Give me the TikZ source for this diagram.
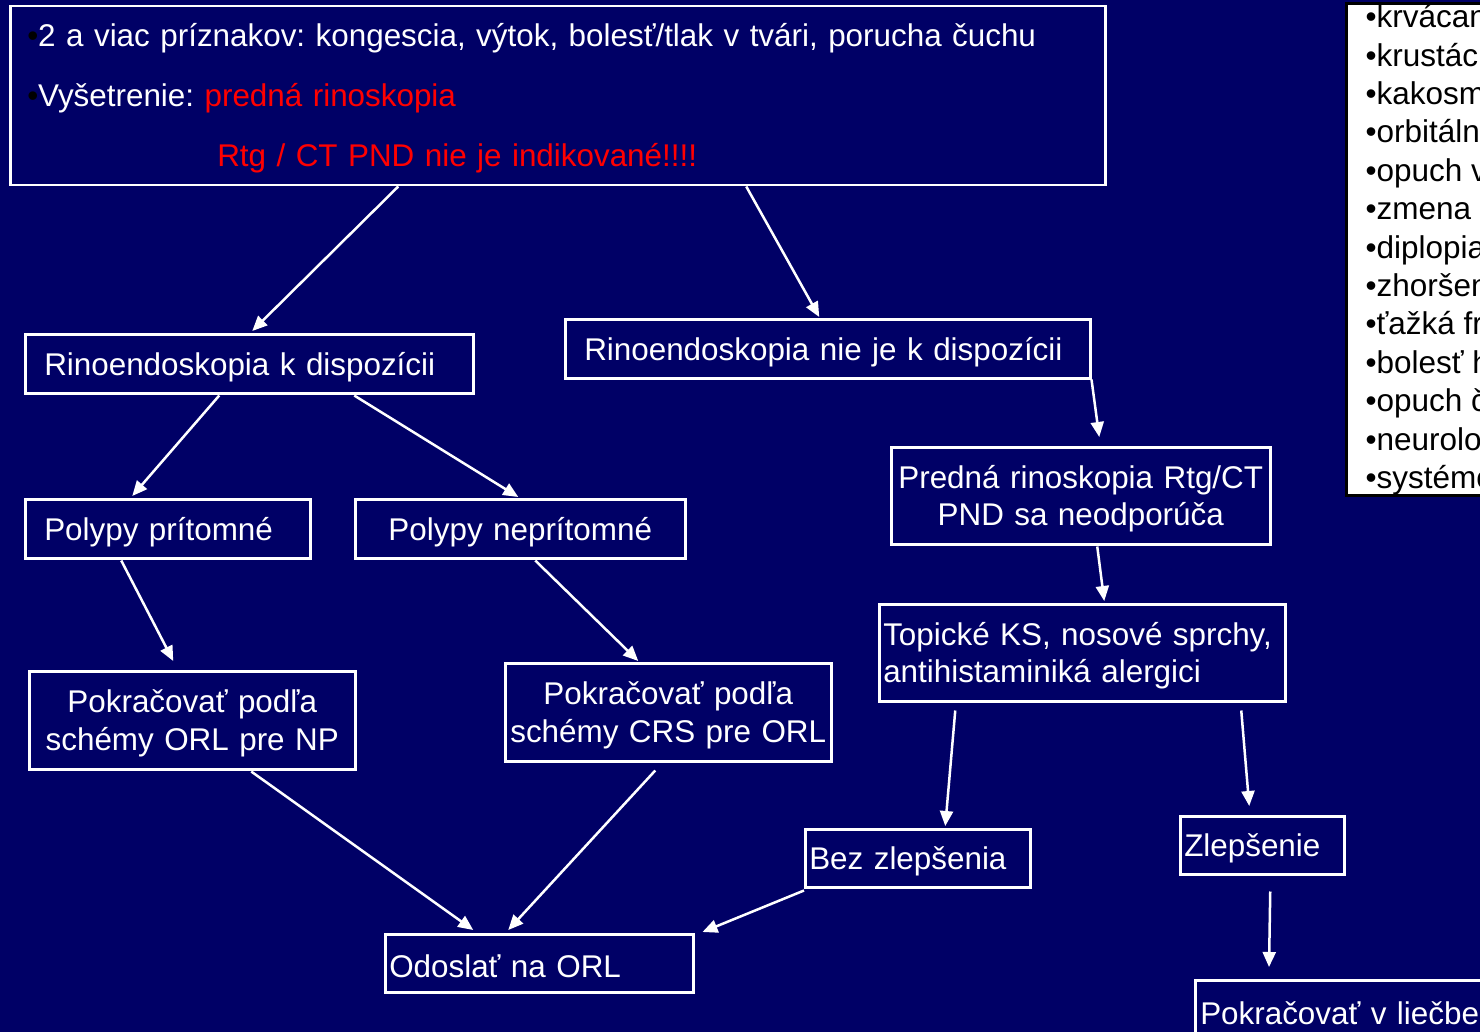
\documentclass[tikz,border=0pt]{standalone}
\usepackage{fontspec}
\setmainfont{Liberation Sans}
\usetikzlibrary{arrows.meta}
\definecolor{navy}{RGB}{0,0,102}
\AtBeginDocument{\frenchspacing}
\begin{document}
\begin{tikzpicture}[x=1pt,y=-1pt,
  box/.style={draw=white, line width=2.5pt, text=white, inner ysep=0pt, anchor=north west, font=\fontsize{31.4}{37.5}\selectfont, execute at begin node={\vskip-8pt}},
  arr/.style={draw=white, line width=2.5pt, -{Triangle[length=15pt,width=13pt]}}]
\useasboundingbox (0,0) rectangle (1480,1032);
\fill[navy] (0,0) rectangle (1480,1032);
\begin{scope}
\clip (0,0) rectangle (1480,1032);
% top box
\node[box, minimum width=1095pt, minimum height=179pt, text width=1061pt, inner xsep=17pt, align=left, font=\fontsize{31.4}{60}\selectfont, execute at begin node={\vskip-24pt}] (top) at (9,5)
  {\mbox{\textcolor{black}{•}2 a viac príznakov: kongescia, výtok, bolesť/tlak v tvári, porucha čuchu}\\
   \mbox{\textcolor{black}{•}Vyšetrenie: \textcolor{red}{predná rinoskopia}}\\
   \mbox{\hspace*{190pt}\textcolor{red}{Rtg / CT PND nie je indikované!!!!}}};
% red flags list
\node[draw=black, line width=3pt, fill=white, text=black, anchor=south west, inner xsep=19pt, inner ysep=0.5pt, align=left, font=\fontsize{31.5}{38.4}\selectfont] (flags) at (1345,497)
  {•krvácanie\\ •krustácia\\ •kakosmia\\ •orbitálne príznaky\\ •opuch viečok\\ •zmena postavenia bulbu\\ •diplopia\\ •zhoršenie zraku\\ •ťažká frontálna bolesť\\ •bolesť hlavy\\ •opuch čela\\ •neurologické príznaky\\ •systémové príznaky};
% boxes
\node[box, minimum width=448pt, minimum height=59pt, text width=410pt, inner xsep=19pt, align=left] (A) at (24,333) {\mbox{Rinoendoskopia k dispozícii}};
\node[box, minimum width=525pt, minimum height=59pt, text width=487pt, inner xsep=19pt, align=left] (B) at (564,318) {\mbox{Rinoendoskopia nie je k dispozícii}};
\node[box, minimum width=285pt, minimum height=59pt, text width=247pt, inner xsep=19pt, align=left] (C) at (24,498) {\mbox{Polypy prítomné}};
\node[box, minimum width=330pt, minimum height=59pt, text width=300pt, inner xsep=15pt, align=center] (D) at (354,498) {\mbox{Polypy neprítomné}};
\node[box, minimum width=326pt, minimum height=98pt, text width=320pt, inner xsep=3pt, align=center] (E) at (28,670) {\mbox{Pokračovať podľa}\\\mbox{schémy ORL pre NP}};
\node[box, minimum width=326pt, minimum height=98pt, text width=320pt, inner xsep=3pt, align=center] (F) at (504,662) {\mbox{Pokračovať podľa}\\\mbox{schémy CRS pre ORL}};
\node[box, minimum width=379pt, minimum height=97pt, text width=369pt, inner xsep=5pt, align=center] (G) at (890,446) {\mbox{Predná rinoskopia Rtg/CT}\\\mbox{PND sa neodporúča}};
\node[box, minimum width=406pt, minimum height=97pt, text width=398pt, inner xsep=4pt, align=left] (H) at (878,603) {\mbox{Topické KS, nosové sprchy,}\\\mbox{antihistaminiká alergici}};
\node[box, minimum width=225pt, minimum height=58pt, text width=217pt, inner xsep=4pt, align=left] (I) at (804,828) {\mbox{Bez zlepšenia}};
\node[box, minimum width=164pt, minimum height=58pt, text width=156pt, inner xsep=4pt, align=left] (J) at (1179,815) {\mbox{Zlepšenie}};
\node[box, minimum width=308pt, minimum height=58pt, text width=300pt, inner xsep=4pt, align=left] (K) at (384,933) {\mbox{Odoslať na ORL}};
\node[box, minimum width=330pt, minimum height=60pt, text width=320pt, inner xsep=5pt, align=left] (L) at (1194,979) {\mbox{Pokračovať v liečbe}};
% arrows
\draw[arr] ([xshift=-159.5pt]top.south) -- ([xshift=3pt,yshift=2pt]A.north);
\draw[arr] ([xshift=188.5pt]top.south) -- ([xshift=-8.5pt,yshift=1pt]B.north);
\draw[arr] ([xshift=-30pt,yshift=-1pt]A.south) -- ([xshift=-35.5pt,yshift=2pt]C.north);
\draw[arr] ([xshift=105pt,yshift=-1pt]A.south) -- ([xshift=-2pt,yshift=1pt]D.north);
\draw[arr] (B.south east) -- ([xshift=18.5pt,yshift=9pt]G.north);
\draw[arr] ([xshift=16.5pt,yshift=-1pt]G.south) -- ([xshift=22pt,yshift=2pt]H.north);
\draw[arr] ([xshift=-46.5pt,yshift=-1pt]C.south) -- ([xshift=-19pt,yshift=9pt]E.north);
\draw[arr] ([xshift=15pt,yshift=-1pt]D.south) -- ([xshift=-30pt,yshift=1pt]F.north);
\draw[arr] ([xshift=-127pt,yshift=-8pt]H.south) -- ([xshift=27.5pt,yshift=2pt]I.north);
\draw[arr] ([xshift=159pt,yshift=-8pt]H.south) -- ([xshift=-13pt,yshift=9pt]J.north);
\draw[arr] ([xshift=8pt,yshift=-16pt]J.south) -- ([xshift=75pt,yshift=12pt]L.north west);
\draw[arr] ([xshift=59pt,yshift=-1pt]E.south) -- ([xshift=-66pt,yshift=3pt]K.north);
\draw[arr] ([xshift=-13pt,yshift=-8pt]F.south) -- ([xshift=-31pt,yshift=3pt]K.north);
\draw[arr] ([yshift=-2pt]I.south west) -- ([xshift=8pt,yshift=1pt]K.north east);
\end{scope}
\end{tikzpicture}
\end{document}
